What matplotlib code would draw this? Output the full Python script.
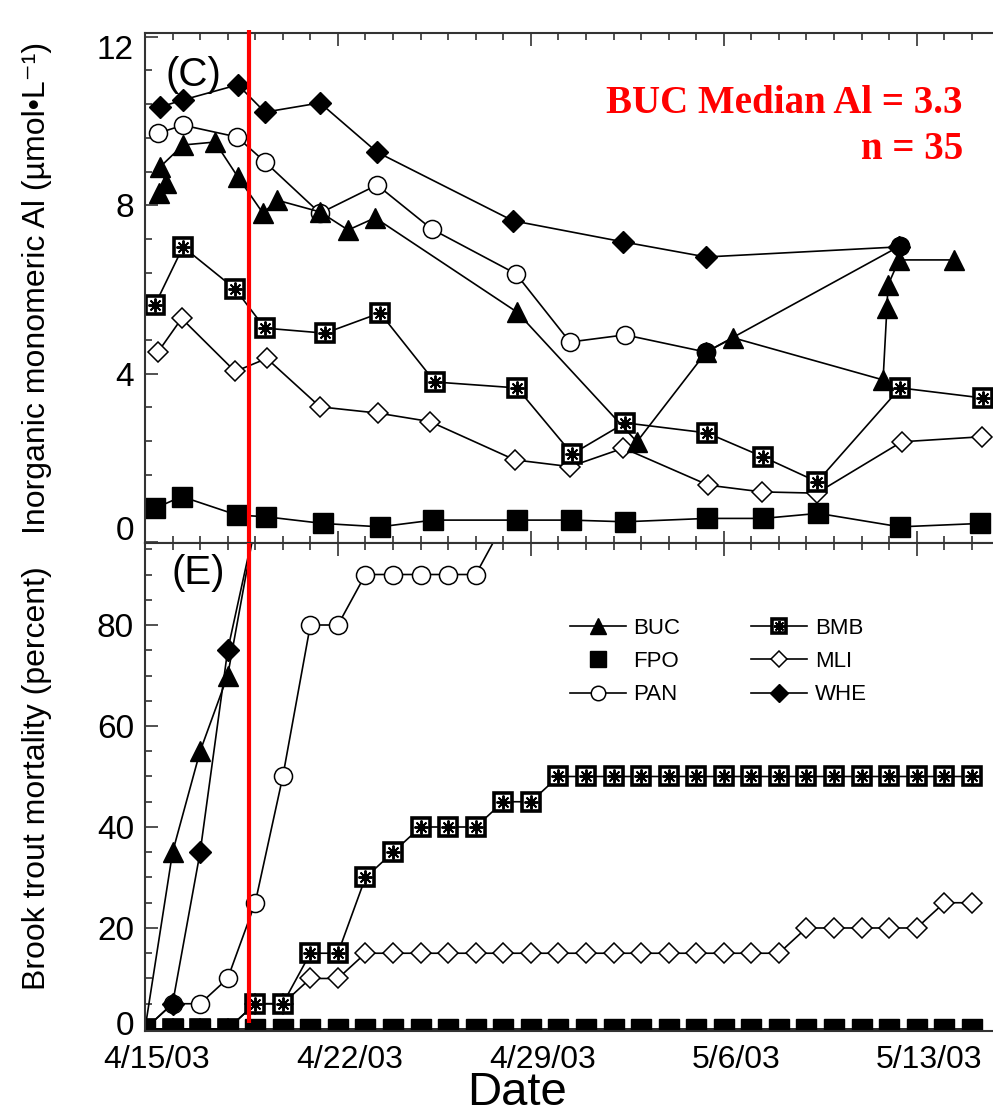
import matplotlib
matplotlib.use("Agg")
import matplotlib.pyplot as plt
from matplotlib.ticker import MultipleLocator, FixedLocator
from matplotlib.transforms import ScaledTranslation
from matplotlib.lines import Line2D

plt.rcParams['font.family'] = ['Liberation Sans', 'DejaVu Sans']

# ---- panel C: inorganic monomeric Al (days after 4/15/03, umol/L) ----
buc_al_day = [0.52, 0.75, 0.55, 1.38, 2.54, 3.37, 4.28, 4.79, 6.35, 7.37, 8.35,
              13.5, 17.85, 20.36, 21.34, 26.78, 26.92, 26.96, 27.36, 29.35]
buc_al = [8.29, 8.53, 8.91, 9.43, 9.50, 8.67, 7.81, 8.12, 7.84, 7.41, 7.70,
          5.46, 2.38, 4.51, 4.85, 3.85, 5.56, 6.10, 6.70, 6.70]

fpo_al_day = [0.36, 1.33, 3.34, 4.38, 6.46, 8.53, 10.46, 13.48, 15.46, 17.41,
              20.38, 22.43, 24.43, 27.39, 30.3]
fpo_al = [0.80, 1.08, 0.64, 0.60, 0.44, 0.36, 0.52, 0.52, 0.52, 0.48,
          0.56, 0.56, 0.68, 0.36, 0.44]

pan_al_day = [0.47, 1.38, 3.34, 4.35, 6.35, 8.42, 10.41, 13.46, 15.42, 17.42, 20.36, 27.39]
pan_al = [9.71, 9.90, 9.62, 9.03, 7.81, 8.48, 7.43, 6.37, 4.75, 4.92, 4.51, 7.03]

bmb_al_day = [0.36, 1.38, 3.27, 4.35, 6.53, 8.53, 10.52, 13.5, 15.5, 17.42,
              20.4, 22.43, 24.39, 27.4, 30.4]
bmb_al = [5.63, 7.01, 6.01, 5.08, 4.96, 5.44, 3.80, 3.66, 2.09, 2.83,
          2.59, 2.02, 1.43, 3.66, 3.42]

mli_al_day = [0.48, 1.33, 3.27, 4.42, 6.35, 8.47, 10.34, 13.42, 15.42, 17.36,
              20.44, 22.38, 24.37, 27.46, 30.36]
mli_al = [4.52, 5.31, 4.05, 4.36, 3.21, 3.06, 2.86, 1.95, 1.79, 2.23,
          1.35, 1.19, 1.16, 2.38, 2.50]

whe_al_day = [0.54, 1.38, 3.37, 4.35, 6.35, 8.42, 13.35, 17.34, 20.36, 27.36]
whe_al = [10.33, 10.50, 10.86, 10.21, 10.43, 9.26, 7.63, 7.13, 6.77, 7.01]

# ---- panel E: brook trout mortality (percent), daily from 4/15/03 ----
buc_mort = [0, 35, 55, 70, 100]
whe_mort = [0, 5, 35, 75, 100]
pan_mort = [0, 5, 5, 10, 25, 50, 80, 80, 90, 90, 90, 90, 90, 100]
bmb_mort = [0, 0, 0, 0, 5, 5, 15, 15, 30, 35, 40, 40, 40, 45, 45, 50,
            50, 50, 50, 50, 50, 50, 50, 50, 50, 50, 50, 50, 50, 50, 50]
mli_mort = [0, 0, 0, 0, 5, 5, 10, 10, 15, 15, 15, 15, 15, 15, 15, 15,
            15, 15, 15, 15, 15, 15, 15, 15, 20, 20, 20, 20, 20, 25, 25]
fpo_mort = [0, 0, 0, 0, 0, 0, 0, 0, 0, 0, 0, 0, 0, 0, 0, 0,
            0, 0, 0, 0, 0, 0, 0, 0, 0, 0, 0, 0, 0, 0, 0]

date_ticks = [0, 7, 14, 21, 28]
date_labels = ['4/15/03', '4/22/03', '4/29/03', '5/6/03', '5/13/03']
exposure_day = 3.77

W, H = 993, 1115
fig = plt.figure(figsize=(W / 100, H / 100), dpi=100)


def fx(px):
    return px / W


def fy(py):
    return 1 - py / H


ax1 = fig.add_axes([fx(145), fy(543), (1000 - 145) / W, 510 / H])
ax2 = fig.add_axes([fx(145), fy(1031), (1000 - 145) / W, 488 / H])

lw = 1.2
tri = dict(color='k', lw=lw, marker='^', ms=15, mfc='k', mec='k')
sq = dict(color='k', lw=lw, marker='s', ms=14, mfc='k', mec='k')
circ = dict(color='k', lw=lw, marker='o', ms=13, mfc='white', mec='k', mew=1.1)
odia = dict(color='k', lw=lw, marker='D', ms=10, mfc='white', mec='k', mew=1.1)
fdia = dict(color='k', lw=lw, marker='D', ms=11, mfc='k', mec='k')
bsq = dict(color='k', lw=lw, marker='s', ms=12.5, mfc='white', mec='k', mew=2.6)
bstar = dict(ls='none', marker=(8, 2, 0), ms=10, mec='k', mew=1.4)


def bmb_plot(ax, x, y):
    h1, = ax.plot(x, y, **bsq)
    h2, = ax.plot(x, y, **bstar)
    return h1, h2


# panel C
ax1.plot(fpo_al_day, fpo_al, **sq)
ax1.plot(mli_al_day, mli_al, **odia)
bmb_plot(ax1, bmb_al_day, bmb_al)
ax1.plot(pan_al_day, pan_al, **circ)
ax1.plot(whe_al_day, whe_al, **fdia)
ax1.plot(buc_al_day, buc_al, **tri)
# where PAN sits under other symbols the original shows a solid dot
ax1.plot(pan_al_day[-2:], pan_al[-2:], ls='none', marker='o', ms=13, mfc='k', mec='k')

# panel E
days = list(range(31))
ax2.plot(days[:len(pan_mort)], pan_mort, **circ)
ax2.plot(days[:len(mli_mort)], mli_mort, **odia)
h_bmb = bmb_plot(ax2, days[:len(bmb_mort)], bmb_mort)
ax2.plot(days[:len(whe_mort)], whe_mort, **fdia)
ax2.plot(days[:len(buc_mort)], buc_mort, **tri)
ax2.plot(days[:len(fpo_mort)], fpo_mort, **sq)

xmax = (1000 - 145) / 27.56
for ax in (ax1, ax2):
    ax.set_xlim(0, xmax)
    ax.xaxis.set_major_locator(FixedLocator(date_ticks))
    ax.xaxis.set_minor_locator(MultipleLocator(1))
    ax.tick_params(which='both', direction='in', top=True, bottom=True,
                   left=True, right=False, color='#333333', width=1.2,
                   labelsize=24, pad=8)
    ax.tick_params(which='major', length=9)
    ax.tick_params(which='minor', length=5)
    for s in ax.spines.values():
        s.set_color('#333333')
        s.set_linewidth(1.5)

ax1.set_ylim(-0.024, 12.09)
ax1.yaxis.set_major_locator(FixedLocator([0, 4, 8, 12]))
ax1.yaxis.set_minor_locator(MultipleLocator(0.8))
ax1.tick_params(labelbottom=False)

ax2.set_ylim(-0.4, 96.24)
ax2.yaxis.set_major_locator(MultipleLocator(20))
ax2.yaxis.set_minor_locator(MultipleLocator(5))
ax2.set_xticklabels(date_labels)
ax2.tick_params(axis='x', labelsize=23, pad=10)

# shift tick labels like the original
dx = ScaledTranslation(12 / 100, 0, fig.dpi_scale_trans)
for lab in ax2.get_xticklabels():
    lab.set_transform(lab.get_transform() + dx)
ylabs = ax1.get_yticklabels()
ylabs[0].set_transform(ylabs[0].get_transform() + ScaledTranslation(0, 14 / 100, fig.dpi_scale_trans))
ylabs[-1].set_transform(ylabs[-1].get_transform() + ScaledTranslation(0, -10 / 100, fig.dpi_scale_trans))
ylabs2 = ax2.get_yticklabels()
ylabs2[1].set_transform(ylabs2[1].get_transform() + ScaledTranslation(0, 6 / 100, fig.dpi_scale_trans))

# red marker line and annotation
ax1.vlines(exposure_day, -0.1, 12.16, color='red', lw=3, clip_on=False, zorder=10)
ax2.vlines(exposure_day, 1.2, 96.3, color='red', lw=3, clip_on=False, zorder=10)
ax1.text(29.68, 9.87, 'BUC Median Al = 3.3\nn = 35', color='red', ha='right', va='center',
         ma='right', fontsize=28, fontweight='bold', family='Liberation Serif', linespacing=1.3)

ax1.text(1.74, 11.1, '(C)', fontsize=29, ha='center', va='center')
ax2.text(1.92, 90.3, '(E)', fontsize=29, ha='center', va='center')

fig.text(fx(37), fy(288), 'Inorganic monomeric Al (µmol•L⁻¹)', rotation=90,
         ha='center', va='center', fontsize=23)
fig.text(fx(37), fy(778), 'Brook trout mortality (percent)', rotation=90,
         ha='center', va='center', fontsize=23)
fig.text(fx(517), fy(1093), 'Date', ha='center', va='center', fontsize=34)

# legend
handles = [
    Line2D([], [], **tri),
    Line2D([], [], ls='none', marker='s', ms=14, mfc='k', mec='k'),
    Line2D([], [], **circ),
    h_bmb,
    Line2D([], [], **odia),
    Line2D([], [], **fdia),
]
names = ['BUC', 'FPO', 'PAN', 'BMB', 'MLI', 'WHE']
ax2.legend(handles, names, ncol=2, frameon=False, fontsize=16,
           loc='upper left', bbox_to_anchor=(fx(550), fy(598)),
           bbox_transform=fig.transFigure, handlelength=2.5,
           columnspacing=3.2, labelspacing=0.55, handletextpad=0.35,
           markerscale=0.8)

fig.savefig('out.png', dpi=100)
